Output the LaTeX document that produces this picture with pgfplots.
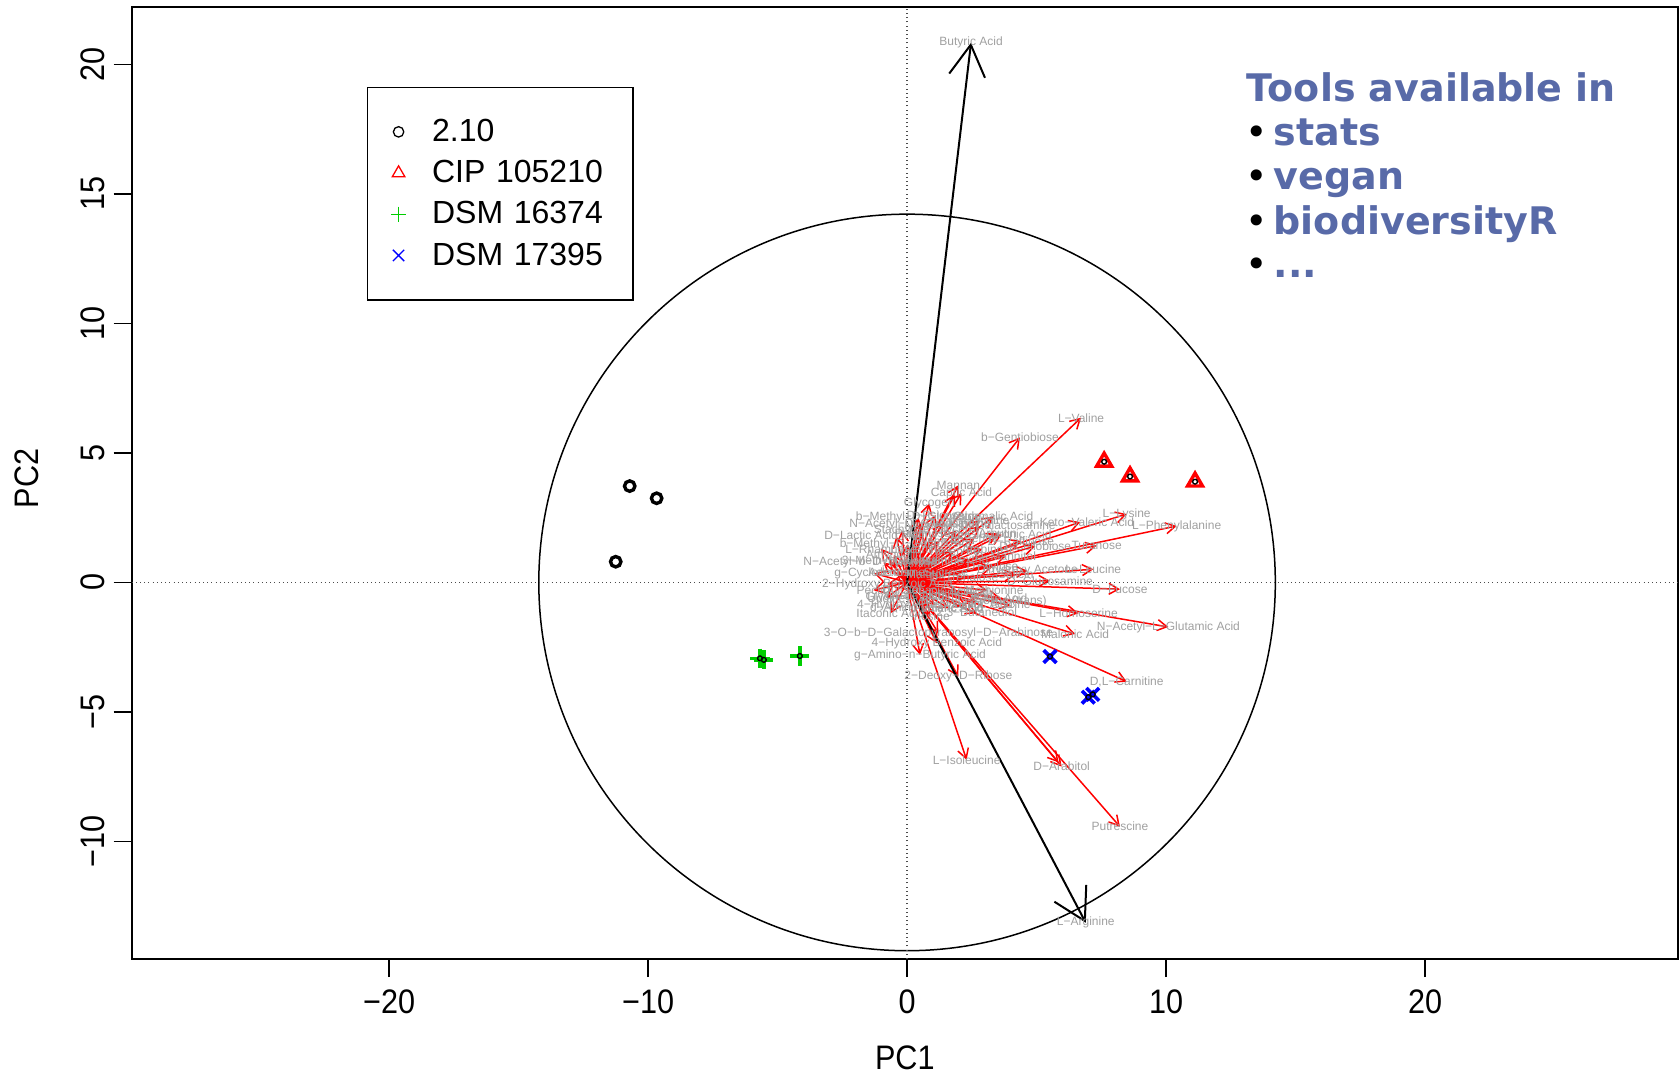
\documentclass[border=0pt]{standalone}
\usepackage{fontspec}
\setmainfont{Liberation Sans}
\newfontfamily\tickfont[FakeStretch=0.9]{Liberation Sans}
\newfontfamily\dejavu{DejaVu Sans}
\usepackage{pgfplots}
\usepackage{pgfplotstable}
\pgfplotsset{compat=1.18}
\usetikzlibrary{arrows.meta}
\definecolor{green3}{RGB}{0,205,0}
\definecolor{labelgray}{RGB}{160,160,160}
\definecolor{toolblue}{RGB}{88,106,168}

\pgfplotstableread[col sep=comma]{
x,y,label
6.72,6.36,L−Valine
4.36,5.60,b−Gentiobiose
1.98,3.75,Mannan
2.10,3.45,Capric Acid
1.85,3.40,
0.86,3.05,Glycogen
8.48,2.64,L−Lysine
10.41,2.18,L−Phenylalanine
6.68,2.33,a−Keto−Valeric Acid
7.32,1.42,Turanose
4.95,1.40,D−Cellobiose
7.19,0.51,L−Leucine
4.65,0.45,Dihydroxy Acetone
5.52,0.06,D−Glucosamine
8.22,-0.26,D−Fucose
6.62,-1.19,L−Homoserine
10.09,-1.72,N−Acetyl−L−Glutamic Acid
6.49,-1.99,Malonic Acid
1.21,-1.96,3−O−b−D−Galactopyranosyl−D−Arabinose
1.15,-2.35,4−Hydroxy Benzoic Acid
0.50,-2.80,g−Amino−n−Butyric Acid
1.98,-3.64,2−Deoxy−D−Ribose
2.30,-6.85,L−Isoleucine
5.97,-7.11,D−Arabitol
5.85,-6.95,
8.22,-9.43,Putrescine
8.48,-3.83,{D,L−Carnitine}
-0.64,-1.19,Itaconic Acid
2.69,-1.19,{2,3−Butanediol}
2.69,-0.74,Hydroxy−L−Proline (trans)
3.33,2.54,Citramalic Acid
2.82,2.16,N−Acetyl−D−Galactosamine
3.65,1.85,D−Glucuronic Acid
-0.91,0.77,N−Acetyl−b−D−Mannosamine
-1.27,0.35,g−Cyclodextrin
-0.76,-0.06,2−Hydroxy Benzoic Acid
-0.42,1.77,D−Lactic Acid Methyl Ester
0.44,2.50,b−Methyl−D−Glucoside
0.50,2.26,N−Acetyl−D−Glucosamine
0.01,1.47,b−Methyl−D−Galactoside
-0.51,1.06,Amygdalin
-0.66,0.80,3−Methyl Glucose
-0.20,-0.25,Dulcitol
0.86,-0.59,Glycyl−L−Glutamic Acid
1.08,-0.87,4−Hydroxy Phenylacetic Acid
0.76,-0.94,d−Amino Valeric Acid
1.20,1.60,Tween 40
1.80,1.20,Tween 80
2.40,0.90,Dextrin
1.00,0.90,Inulin
2.90,1.30,L−Arabinose
3.30,0.60,D−Xylose
1.50,0.40,Sucrose
2.20,0.20,D−Trehalose
0.70,0.30,Maltitol
3.80,1.00,D−Mannitol
1.90,2.00,Glycerol
2.60,1.70,L−Serine
0.40,1.30,L−Alanine
1.40,2.30,L−Ornithine
2.80,2.40,L−Histidine
3.10,-0.30,L−Methionine
2.00,-0.40,Quinic Acid
1.20,-0.30,Sebacic Acid
0.30,-0.50,Oxalic Acid
3.60,-0.60,Citric Acid
1.60,-1.00,Fumaric Acid
0.20,0.70,Tyramine
-0.40,0.40,Adenosine
-0.80,-0.60,Uridine
0.90,-1.30,Inosine
4.20,0.30,Salicin
3.50,1.90,Arbutin
0.60,1.90,Palatinose
-0.20,2.00,Stachyose
4.40,1.60,D−Raffinose
2.30,-0.90,Xylitol
4.00,-0.90,Glycine
1.10,2.60,D−Psicose
-1.00,1.30,L−Rhamnose
-1.30,-0.30,Pectin
}\redarrows

\pgfplotstableread[col sep=comma]{
x,y,label
2.47,20.84,Butyric Acid
6.90,-13.14,L−Arginine
}\blackarrows

\begin{document}
\begin{tikzpicture}
\useasboundingbox (-65.85bp,-57.5bp) rectangle (773.65bp,479.5bp);
\begin{axis}[
  at={(0,0)}, anchor=south west,
  scale only axis, width=772.9bp, height=475.75bp,
  xmin=-29.94, xmax=29.75, ymin=-14.54, ymax=22.2,
  clip=false,
  axis line style={line width=1bp, black},
  xtick={-20,-10,0,10,20}, xticklabels={−20,−10,0,10,20},
  ytick={-10,-5,0,5,10,15,20}, yticklabels={−10,−5,0,5,10,15,20},
  tick align=outside, major tick length=9bp,
  tick style={line width=0.8bp, black},
  tick pos=left,
  ticklabel style={font=\tickfont\fontsize{17bp}{20bp}\selectfont, inner sep=0pt},
  xticklabel shift=6bp,
  yticklabel style={rotate=90, anchor=south},
  yticklabel shift=4bp,
  xlabel={PC1}, ylabel={PC2},
  label style={font=\tickfont\fontsize{17bp}{20bp}\selectfont, inner sep=0pt},
  xlabel style={at={(axis description cs:0.5001,-0.1040)}, anchor=center},
  ylabel style={at={(axis description cs:-0.0679,0.5049)}, anchor=center},
  legend style={at={(axis description cs:0.1522,0.9168)}, anchor=north west,
    draw=black, line width=0.6bp, fill=white,
    inner xsep=10.5bp, inner ysep=12bp, row sep=0pt,
    font=\fontsize{16bp}{19bp}\selectfont,
    nodes={inner sep=0pt, minimum height=20.6bp, text width=90bp, align=left, anchor=west},
    /tikz/every odd column/.append style={column sep=11.75bp}},
  legend cell align=left,
  legend image code/.code={\path[draw=none, fill=none] (-5bp,-5bp) rectangle (5bp,5bp); \draw[#1] plot coordinates {(0bp,0bp)};},
]
% circle and reference lines
\draw[line width=0.75bp, black] (axis cs:0,0) circle [radius=14.22];
\addplot[forget plot, color=black!70, line width=0.6bp, dash pattern=on 0.5bp off 1.6bp] coordinates {(0,-14.54) (0,22.2)};
\addplot[forget plot, color=black!70, line width=0.6bp, dash pattern=on 0.5bp off 1.6bp] coordinates {(-29.94,0) (29.75,0)};
% arrows
\addplot[forget plot, red, line width=0.75bp, -{Straight Barb[length=4.8bp,width=5.5bp]},
  quiver={u=\thisrow{x}, v=\thisrow{y}}] table[x expr=0, y expr=0]{\redarrows};
\addplot[forget plot, black, line width=1bp, -{Straight Barb[length=15.6bp,width=18bp]},
  quiver={u=\thisrow{x}, v=\thisrow{y}}] table[x expr=0, y expr=0]{\blackarrows};
% labels
\addplot[forget plot, mark=none, draw=none, nodes near coords, point meta=explicit symbolic,
  nodes near coords style={anchor=center, inner sep=0pt, text=labelgray, font=\fontsize{6bp}{7bp}\selectfont}]
  table[x=x, y=y, meta=label]{\redarrows};
\addplot[forget plot, mark=none, draw=none, nodes near coords, point meta=explicit symbolic,
  nodes near coords style={anchor=center, inner sep=0pt, text=labelgray, font=\fontsize{6bp}{7bp}\selectfont}]
  table[x=x, y=y, meta=label]{\blackarrows};
% points
\addplot[forget plot, only marks, mark=o, mark size=2.6bp, line width=1.7bp, black]
  coordinates {(-10.71,3.72) (-9.67,3.25) (-11.25,0.80)};
\addplot[forget plot, only marks, mark=triangle, mark size=4.3bp, line width=1.7bp, red]
  coordinates {(7.61,4.66) (8.61,4.09) (11.12,3.89)};
\addplot[forget plot, only marks, mark=+, mark size=4.8bp, line width=1.8bp, green3]
  coordinates {(-5.53,-2.99) (-5.68,-2.93) (-4.14,-2.84)};
\addplot[forget plot, only marks, mark=x, mark size=4.5bp, line width=1.8bp, blue]
  coordinates {(5.52,-2.86) (7.00,-4.43) (7.17,-4.32)};
\addplot[forget plot, only marks, mark=o, mark size=1.2bp, line width=0.7bp, black]
  coordinates {(7.61,4.66) (8.61,4.09) (11.12,3.89) (-5.53,-2.99) (-5.68,-2.93) (-4.14,-2.84) (5.52,-2.86) (7.00,-4.43) (7.17,-4.32)};
% legend
\addlegendimage{black, mark=o, mark size=2.6bp, line width=0.65bp}
\addlegendentry{2.10}
\addlegendimage{red, mark=triangle, mark size=3.6bp, line width=0.65bp}
\addlegendentry{CIP 105210}
\addlegendimage{green3, mark=+, mark size=3.8bp, line width=0.65bp}
\addlegendentry{DSM 16374}
\addlegendimage{blue, mark=x, mark size=4.0bp, line width=0.65bp}
\addlegendentry{DSM 17395}
% annotation text
\node[anchor=base west, inner sep=0pt, text=toolblue, font=\dejavu\bfseries\fontsize{19bp}{22bp}\selectfont] at (axis cs:13.11,18.56) {Tools available in};
\node[anchor=base west, inner sep=0pt, font=\dejavu\fontsize{19bp}{22bp}\selectfont] at (axis cs:13.05,16.89) {•};
\node[anchor=base west, inner sep=0pt, font=\dejavu\fontsize{19bp}{22bp}\selectfont] at (axis cs:13.05,15.17) {•};
\node[anchor=base west, inner sep=0pt, font=\dejavu\fontsize{19bp}{22bp}\selectfont] at (axis cs:13.05,13.42) {•};
\node[anchor=base west, inner sep=0pt, font=\dejavu\fontsize{19bp}{22bp}\selectfont] at (axis cs:13.05,11.76) {•};
\node[anchor=base west, inner sep=0pt, text=toolblue, font=\dejavu\bfseries\fontsize{19bp}{22bp}\selectfont] at (axis cs:14.14,16.89) {stats};
\node[anchor=base west, inner sep=0pt, text=toolblue, font=\dejavu\bfseries\fontsize{19bp}{22bp}\selectfont] at (axis cs:14.14,15.17) {vegan};
\node[anchor=base west, inner sep=0pt, text=toolblue, font=\dejavu\bfseries\fontsize{19bp}{22bp}\selectfont] at (axis cs:14.14,13.42) {biodiversityR};
\node[anchor=base west, inner sep=0pt, text=toolblue, font=\dejavu\bfseries\fontsize{19bp}{22bp}\selectfont] at (axis cs:14.14,11.76) {...};
\end{axis}
\end{tikzpicture}
\end{document}
